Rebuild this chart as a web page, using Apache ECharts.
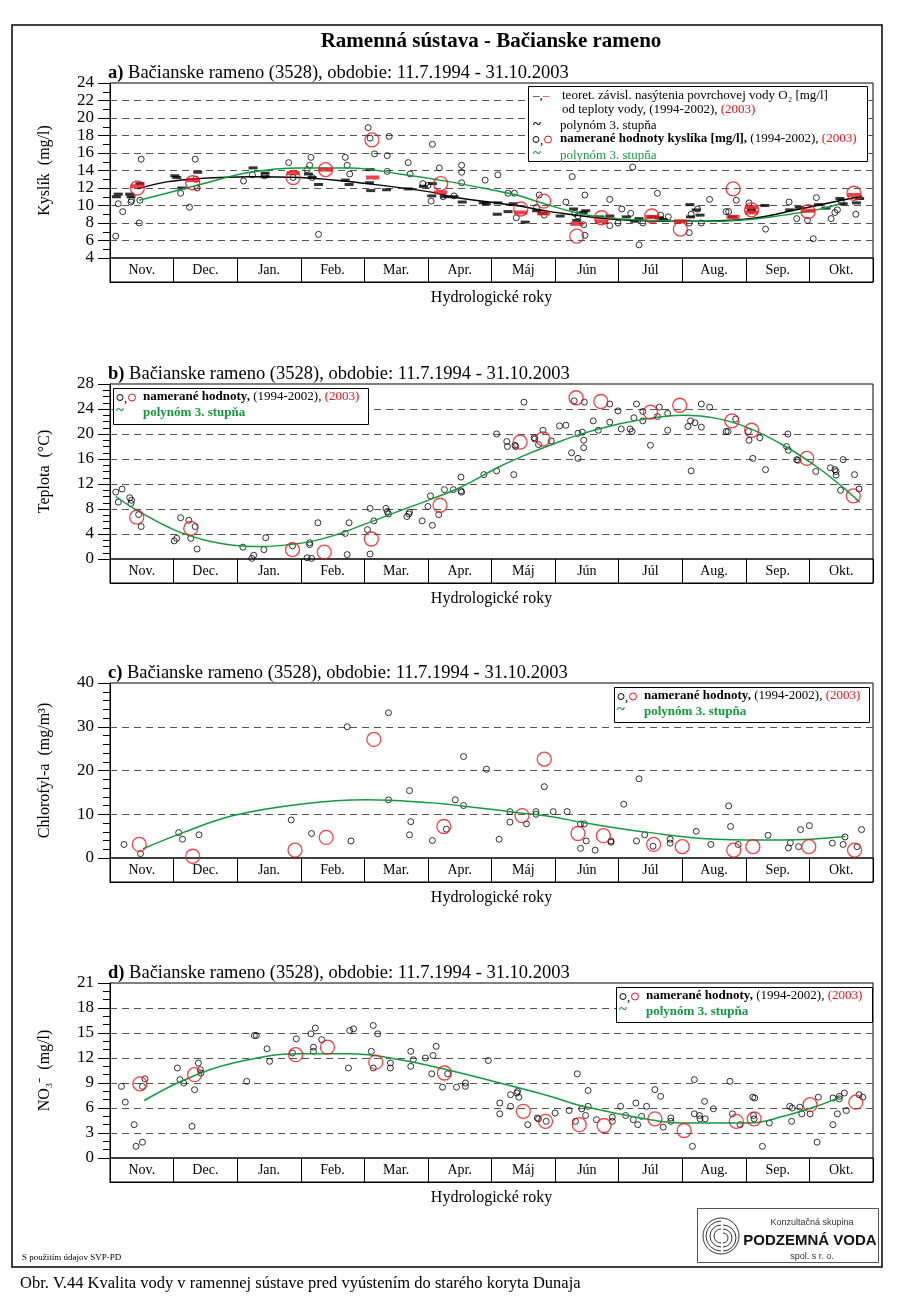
<!DOCTYPE html>
<html>
<head>
<meta charset="utf-8">
<script src="https://cdn.jsdelivr.net/npm/echarts@6/dist/echarts.min.js"></script>
<style>
html,body{margin:0;padding:0;background:#fff;}
#c{width:900px;height:1306px;}
</style>
</head>
<body>
<div id="c"></div>
<script>
// ---------- DATA (x = position in hydrological year, in months from 1 Nov) ----------
const months = ['Nov.','Dec.','Jan.','Feb.','Mar.','Apr.','Máj','Jún','Júl','Aug.','Sep.','Okt.'];

// a) oxygen
const o2Measured = [[0.09,6.5],[0.13,10.2],[0.20,9.3],[0.33,10.4],[0.34,10.6],[0.46,8.0],[0.47,10.6],[0.49,15.3],
[1.11,11.4],[1.25,9.8],[1.34,15.3],[1.37,12.0],[1.35,13.0],
[2.10,12.8],[2.24,13.5],[2.43,13.4],[2.81,14.9],[2.88,13.2],
[3.10,14.1],[3.14,14.6],[3.16,15.5],[3.18,13.2],[3.28,6.7],[3.70,15.5],[3.73,14.6],[3.77,13.6],
[4.06,18.9],[4.09,17.7],[4.16,15.9],[4.39,17.9],[4.36,15.7],[4.36,13.9],[4.69,14.9],[4.72,13.6],[4.92,12.5],
[5.05,10.5],[5.00,12.3],[5.07,17.0],[5.18,14.3],[5.24,11.0],[5.41,11.1],[5.53,14.6],[5.53,13.8],[5.53,12.6],[5.90,12.9],
[6.10,13.5],[6.26,11.4],[6.36,11.4],[6.39,8.6],[6.71,9.8],[6.75,11.2],[6.83,8.9],
[7.17,10.4],[7.27,13.3],[7.31,9.1],[7.36,8.8],[7.45,7.8],[7.47,11.2],[7.47,6.6],[7.86,10.7],[7.86,7.7],[7.99,8.0],
[8.05,9.6],[8.19,9.1],[8.22,14.4],[8.32,5.5],[8.38,8.0],[8.61,11.4],[8.66,8.9],[8.78,8.7],
[9.11,8.0],[9.11,6.9],[9.14,9.0],[9.24,9.6],[9.30,8.0],[9.43,10.7],[9.69,9.3],[9.73,9.3],[9.85,10.6],
[10.05,10.3],[10.09,9.5],[10.31,7.3],[10.68,10.4],[10.80,8.5],[10.97,8.3],
[11.06,6.2],[11.11,10.9],[11.34,8.5],[11.40,9.2],[11.44,9.5],[11.50,10.4],[11.73,9.0]];
const o2Measured2003 = [[0.43,12.0],[1.30,12.6],[2.88,13.2],[3.39,14.1],[4.12,17.5],[5.20,12.5],[6.46,9.6],[6.82,10.5],
[7.34,6.5],[7.73,8.6],[8.52,8.8],[8.97,7.3],[9.80,11.9],[10.09,9.5],[10.98,9.3],[11.70,11.4]];
const o2Saturation = [[0.10,11.0],[0.13,11.3],[0.31,11.3],[0.33,11.0],[0.47,12.5],[1.02,13.4],[1.05,13.2],[1.13,12.0],[1.38,13.8],
[2.25,14.3],[2.44,13.7],[2.44,13.3],[3.12,13.6],[3.18,13.2],[3.28,12.4],[3.70,12.9],[3.76,12.4],[4.09,14.1],[4.08,12.6],[4.10,11.7],
[4.35,11.8],[4.69,11.9],[4.93,12.2],[5.06,11.1],[5.07,12.5],[5.27,11.0],[5.41,11.0],[5.54,10.4],[5.87,10.3],[5.92,10.2],
[6.09,9.0],[6.10,10.3],[6.26,9.3],[6.34,10.2],[6.53,8.1],[6.71,9.4],[6.80,9.1],[7.08,8.8],[7.29,9.6],[7.34,8.3],[7.44,9.2],[7.48,9.4],
[7.70,8.7],[7.86,8.8],[8.12,8.7],[8.25,8.2],[8.32,8.5],[8.52,8.7],[8.64,8.6],[8.70,8.4],[9.12,10.1],[9.13,8.7],[9.22,9.5],[9.28,8.9],
[9.79,8.7],[10.09,9.5],[10.30,10.0],[10.69,9.5],[10.84,9.8],[11.14,10.1],[11.26,9.7],[11.48,10.8],[11.53,10.2],[11.74,10.3],[11.79,10.8]];
const o2Saturation2003 = [[0.43,12.2],[1.30,12.9],[2.88,13.7],[3.39,14.1],[4.13,13.2],[5.20,11.5],[6.46,9.2],[6.82,9.1],[7.34,7.9],
[7.73,8.2],[8.52,8.7],[8.97,8.2],[9.80,8.7],[10.09,9.8],[10.09,9.2],[10.98,9.4],[11.70,11.2]];
const o2SaturationFit = [[0.43,11.9],[0.89,12.7],[1.42,13.1],[2.20,13.3],[2.99,13.2],[4.04,12.5],[5.08,11.5],[5.35,11.0],[6.39,10.0],
[6.92,9.3],[7.97,8.4],[9.01,8.2],[10.06,8.5],[10.85,9.6],[11.64,10.8],[11.83,11.1]];
const o2MeasuredFit = [[0.46,10.6],[0.89,11.4],[1.42,12.4],[2.20,13.8],[2.99,14.3],[3.77,14.3],[4.56,13.6],[5.35,12.7],[6.13,11.6],
[6.39,11.2],[6.92,10.0],[7.44,9.0],[7.97,8.5],[8.49,8.3],[9.01,8.2],[9.54,8.2],[10.06,8.4],[10.59,8.9],[11.11,9.5],[11.48,10.2]];

// b) temperature
const tempMeasured = [[0.09,10.7],[0.13,9.1],[0.19,11.2],[0.31,9.8],[0.34,9.4],[0.33,8.9],[0.45,7.1],[0.49,5.2],
[1.11,6.6],[1.24,6.2],[1.34,5.2],[1.27,3.3],[1.01,2.9],[1.05,3.3],[1.37,1.6],
[2.09,1.9],[2.26,0.6],[2.23,0.1],[2.42,1.5],[2.45,3.4],[2.87,2.1],
[3.14,2.3],[3.14,2.6],[3.27,5.8],[3.10,0.2],[3.17,0.1],[3.70,4.1],[3.76,5.8],[3.73,0.7],
[4.05,4.7],[4.09,8.1],[4.09,0.8],[4.15,6.1],[4.34,8.1],[4.36,7.6],[4.38,7.2],[4.67,6.8],[4.70,7.2],[4.71,7.5],[4.91,6.1],
[5.00,8.4],[5.04,10.1],[5.07,5.4],[5.17,7.1],[5.26,11.1],[5.40,11.1],[5.52,13.1],[5.52,10.9],[5.53,10.7],[5.88,13.5],
[6.08,14.1],[6.08,20.0],[6.24,18.8],[6.25,18.0],[6.35,13.5],[6.37,18.2],[6.38,18.0],[6.51,25.1],[6.67,19.4],[6.68,19.2],[6.74,18.3],[6.81,20.6],[6.94,18.9],
[7.07,21.3],[7.17,21.4],[7.26,17.0],[7.30,25.3],[7.36,16.1],[7.36,20.1],[7.43,20.3],[7.45,19.0],[7.45,17.8],[7.46,25.1],[7.60,22.1],[7.68,20.6],[7.86,24.8],[7.86,21.9],[7.99,23.7],
[8.04,20.8],[8.18,20.8],[8.21,20.4],[8.24,22.6],[8.28,24.8],[8.38,22.1],[8.38,23.6],[8.50,18.2],[8.61,22.8],[8.64,24.3],[8.77,23.3],[8.77,20.6],
[9.09,21.2],[9.13,22.1],[9.14,14.1],[9.20,21.8],[9.30,24.8],[9.30,21.1],[9.43,24.3],[9.69,20.4],[9.72,20.4],[9.84,22.4],
[10.04,20.4],[10.05,19.0],[10.11,16.1],[10.22,19.4],[10.31,14.3],[10.64,18.0],[10.66,20.0],[10.67,17.4],[10.80,15.9],[10.82,15.8],
[11.10,14.0],[11.33,14.6],[11.40,14.3],[11.42,14.0],[11.42,13.4],[11.49,11.0],[11.53,15.9],[11.71,13.5],[11.78,11.2]];
const tempMeasured2003 = [[0.42,6.7],[1.27,4.9],[2.87,1.5],[3.37,1.1],[4.11,3.2],[5.19,8.6],[6.45,18.7],[6.81,19.2],
[7.33,25.8],[7.72,25.2],[8.50,23.5],[8.96,24.6],[9.78,22.1],[10.09,20.6],[10.96,16.1],[11.69,10.1]];
const tempFit = [[0.09,10.0],[0.42,7.8],[1.00,4.7],[1.50,3.0],[1.94,2.2],[2.36,2.0],[2.99,2.5],[3.50,3.7],[4.04,5.7],[4.50,7.5],
[5.08,9.7],[5.50,11.4],[6.13,14.8],[6.50,16.5],[6.92,18.2],[7.44,20.1],[8.00,21.6],[8.49,22.5],[9.01,23.0],[9.54,22.5],
[10.06,20.9],[10.59,18.2],[11.11,14.8],[11.50,11.7],[11.79,9.1]];

// c) chlorophyll-a
const chlMeasured = [[0.22,3.1],[0.48,1.0],[1.08,5.8],[1.14,4.3],[1.40,5.3],[2.85,8.7],[3.17,5.6],[3.73,30.0],[3.79,3.9],[4.38,33.2],
[4.38,13.3],[4.71,15.4],[4.73,8.3],[4.71,5.3],[5.07,4.0],[5.29,6.6],[5.43,13.3],[5.56,23.2],[5.56,12.0],[5.92,20.3],[6.12,4.3],
[6.29,10.6],[6.29,8.2],[6.55,7.8],[6.70,10.6],[6.70,10.0],[6.83,16.3],[6.97,10.6],[7.19,10.6],[7.40,7.8],[7.46,7.8],[7.49,3.9],
[7.40,2.2],[7.63,1.8],[7.88,3.9],[7.88,3.6],[8.08,12.3],[8.28,3.9],[8.32,18.1],[8.41,5.3],[8.54,2.7],[8.81,4.3],[8.81,3.4],
[9.22,6.1],[9.45,3.1],[9.73,11.9],[9.76,7.2],[9.88,3.1],[10.35,5.2],[10.67,2.3],[10.70,3.5],[10.83,2.6],[10.86,6.5],[11.00,7.4],
[11.36,3.4],[11.53,3.1],[11.56,4.8],[11.75,2.6],[11.82,6.5]];
const chlMeasured2003 = [[0.46,3.1],[1.30,0.4],[2.91,1.8],[3.40,4.7],[4.15,27.1],[5.25,7.2],[6.48,9.7],[6.83,22.6],[7.36,5.6],
[7.76,5.1],[8.55,3.1],[9.00,2.6],[9.81,1.8],[10.11,2.6],[10.99,2.6],[11.71,1.8]];
const chlFit = [[0.52,2.1],[1.15,5.8],[1.94,9.7],[2.99,12.3],[4.04,13.3],[5.08,12.6],[5.35,12.2],[6.13,10.9],[6.39,10.4],
[6.92,9.5],[7.44,8.1],[8.49,5.8],[9.54,4.3],[10.59,4.1],[11.56,4.9]];

// d) nitrate
const no3Measured = [[0.18,8.6],[0.24,6.7],[0.38,4.0],[0.41,1.4],[0.51,1.9],[0.51,8.6],[0.55,9.5],[1.06,10.8],[1.10,9.4],[1.16,9.0],
[1.33,8.2],[1.29,3.8],[1.39,11.4],[1.42,10.6],[1.43,10.2],[2.15,9.2],[2.27,14.7],[2.30,14.7],[2.47,13.1],[2.51,11.6],[2.87,12.6],
[2.93,14.3],[3.16,14.9],[3.23,15.6],[3.20,13.3],[3.20,12.8],[3.33,14.2],[3.75,10.8],[3.77,15.3],[3.83,15.5],[4.11,12.8],[4.14,15.9],
[4.14,10.8],[4.21,14.9],[4.41,11.4],[4.41,10.8],[4.73,12.8],[4.73,11.0],[4.77,11.8],[4.96,12.0],[5.08,12.3],[5.13,13.4],[5.06,10.1],
[5.23,8.5],[5.31,10.1],[5.45,8.5],[5.59,9.0],[5.59,8.6],[5.95,11.7],[6.13,6.6],[6.13,5.3],[6.30,7.6],[6.30,6.2],[6.40,7.8],[6.43,7.3],
[6.41,8.0],[6.57,4.0],[6.72,4.8],[6.74,4.7],[6.86,4.4],[7.00,5.4],[7.22,5.7],[7.32,4.4],[7.35,10.1],[7.42,5.9],[7.48,5.1],[7.52,8.1],
[7.52,6.2],[7.65,4.6],[7.90,4.9],[7.90,4.4],[8.03,6.2],[8.11,5.1],[8.23,4.6],[8.27,6.6],[8.30,4.0],[8.36,5.0],[8.44,6.2],[8.57,8.2],
[8.66,7.4],[8.70,3.7],[8.82,4.8],[8.82,4.4],[9.16,1.4],[9.19,9.4],[9.19,5.3],[9.27,5.1],[9.28,4.7],[9.36,4.7],[9.35,6.8],[9.49,5.9],
[9.75,9.2],[9.79,5.3],[9.91,4.0],[10.11,7.3],[10.14,7.2],[10.12,5.1],[10.13,4.7],[10.26,1.4],[10.37,4.2],[10.69,6.2],[10.72,4.4],
[10.73,6.0],[10.85,6.1],[10.88,5.3],[11.01,5.3],[11.12,1.9],[11.14,7.3],[11.37,4.0],[11.44,5.3],[11.37,7.2],[11.47,7.1],[11.47,7.4],
[11.55,7.8],[11.58,5.7],[11.78,7.6],[11.84,7.3]];
const no3Measured2003 = [[0.47,8.9],[1.33,10.0],[2.92,12.4],[3.42,13.3],[4.18,11.5],[5.26,10.2],[6.50,5.6],[6.85,4.4],[7.38,4.0],
[7.77,3.9],[8.57,4.7],[9.03,3.3],[9.85,4.4],[10.13,4.7],[11.01,6.4],[11.73,6.7]];
const no3Fit = [[0.54,6.9],[1.15,9.3],[1.94,11.4],[2.99,12.5],[3.77,12.5],[4.56,11.8],[5.35,10.5],[6.13,9.0],[6.92,7.4],[7.44,6.2],
[8.49,4.6],[9.01,4.2],[10.06,4.2],[10.59,5.0],[11.11,6.2],[11.48,7.3]];

// axis settings per panel
const yNames = ['Kyslík  (mg/l)', 'Teplota  (°C)', 'Chlorofyl-a  (mg/m³)', 'NO₃⁻  (mg/l)'];
const yMin = [4, 0, 0, 0];
const yMax = [24, 28, 40, 21];
const yStep = [2, 4, 10, 3];
const yMinorSplit = [2, 4, 5, 3];
const panelLetters = ['a)', 'b)', 'c)', 'd)'];
const panelTitle = ' Bačianske rameno (3528), obdobie: 11.7.1994 - 31.10.2003';

// ---------- LAYOUT ----------
const SERIF = '"Liberation Serif", "Times New Roman", serif';
const RED = '#e8141c', GREEN = '#15993f';
const L = 110, W = 763, H = 175, BAND = 24;
const tops = [83, 384, 683, 983];
const LF = 13; // legend font size

const grids = [], xAxes = [], yAxes = [], series = [];
tops.forEach((t) => {
  grids.push({left: L, top: t, width: W, height: H, show: true, borderColor: '#000', borderWidth: 1, backgroundColor: 'transparent'});
});
tops.forEach((t) => {
  grids.push({left: L, top: t + H, width: W, height: BAND, show: true, borderColor: '#000', borderWidth: 1, backgroundColor: 'transparent'});
});
for (let i = 0; i < 4; i++) {
  xAxes.push({gridIndex: i, type: 'value', min: 0, max: 12, show: false});
  yAxes.push({
    gridIndex: i, type: 'value', min: yMin[i], max: yMax[i], interval: yStep[i],
    name: yNames[i], nameLocation: 'middle', nameGap: 57,
    nameTextStyle: {fontFamily: SERIF, fontSize: 16, color: '#000'},
    axisLine: {show: true, lineStyle: {color: '#000', width: 1}},
    axisTick: {show: true, length: 12, lineStyle: {color: '#000', width: 1}},
    minorTick: {show: true, splitNumber: yMinorSplit[i], length: 7, lineStyle: {color: '#000', width: 1}},
    axisLabel: {fontFamily: SERIF, fontSize: 17, color: '#000', margin: 16},
    splitLine: {show: true, showMinLine: false, showMaxLine: false, lineStyle: {color: '#555', width: 1, type: [7, 5]}}
  });
}
for (let i = 0; i < 4; i++) {
  xAxes.push({
    gridIndex: 4 + i, type: 'category', data: months, boundaryGap: true,
    name: 'Hydrologické roky', nameLocation: 'middle', nameGap: 8,
    nameTextStyle: {fontFamily: SERIF, fontSize: 16, color: '#000', verticalAlign: 'top'},
    axisLine: {show: true, lineStyle: {color: '#000'}},
    axisTick: {show: false},
    axisLabel: {interval: 0, fontFamily: SERIF, fontSize: 14, color: '#000', margin: -12, verticalAlign: 'middle'},
    splitLine: {show: true, interval: 0, lineStyle: {color: '#000', width: 1}}
  });
  yAxes.push({gridIndex: 4 + i, type: 'value', show: false, min: 0, max: 1});
}

function blackCircles(i, data) {
  return {type: 'scatter', xAxisIndex: i, yAxisIndex: i, data, symbol: 'circle', symbolSize: 6, silent: true, z: 3,
    itemStyle: {color: 'rgba(0,0,0,0)', borderColor: '#000', borderWidth: 1}};
}
function redCircles(i, data) {
  return {type: 'scatter', xAxisIndex: i, yAxisIndex: i, data, symbol: 'circle', symbolSize: 14, silent: true, z: 5,
    itemStyle: {color: 'rgba(0,0,0,0)', borderColor: RED, borderWidth: 1.3}};
}
function dashes(i, data, color, size, z) {
  return {type: 'scatter', xAxisIndex: i, yAxisIndex: i, data, symbol: 'rect', symbolSize: size, silent: true, z,
    itemStyle: {color}};
}
function fit(i, data, color) {
  return {type: 'line', xAxisIndex: i, yAxisIndex: i, data, smooth: 0.4, showSymbol: false, symbol: 'none', silent: true, z: 4,
    lineStyle: {color, width: 1.5}};
}

series.push(dashes(0, o2Saturation, '#000', [9, 3], 2));
series.push(blackCircles(0, o2Measured));
series.push(fit(0, o2SaturationFit, '#000'));
series.push(fit(0, o2MeasuredFit, GREEN));
series.push(redCircles(0, o2Measured2003));
series.push(dashes(0, o2Saturation2003, RED, [13, 4], 6));

series.push(blackCircles(1, tempMeasured));
series.push(fit(1, tempFit, GREEN));
series.push(redCircles(1, tempMeasured2003));

series.push(blackCircles(2, chlMeasured));
series.push(fit(2, chlFit, GREEN));
series.push(redCircles(2, chlMeasured2003));

series.push(blackCircles(3, no3Measured));
series.push(fit(3, no3Fit, GREEN));
series.push(redCircles(3, no3Measured2003));

// ---------- GRAPHIC (frame, titles, legends, logo) ----------
const g = [];
const txt = (x, y, text, opt) => Object.assign({type: 'text', x, y, silent: true,
  style: Object.assign({text, fill: '#000', font: LF + 'px ' + SERIF, textAlign: 'left', textVerticalAlign: 'middle'}, opt || {})});

g.push({type: 'rect', shape: {x: 12, y: 25, width: 870, height: 1242}, silent: true,
  style: {fill: 'none', stroke: '#000', lineWidth: 1.5}});
g.push(txt(491, 42, 'Ramenná sústava - Bačianske rameno', {font: 'bold 21px ' + SERIF, textAlign: 'center'}));

tops.forEach((t, i) => {
  g.push(txt(108, t - 10, '{b|' + panelLetters[i] + '}' + panelTitle, {
    font: '18.5px ' + SERIF, rich: {b: {font: 'bold 18.5px ' + SERIF, fill: '#000'}}}));
});

const richR = {r: {fill: RED, font: LF + 'px ' + SERIF}, k: {fill: '#000', font: LF + 'px ' + SERIF}, b: {fill: '#000', font: 'bold ' + LF + 'px ' + SERIF}};
function circSym(x, y) {
  g.push({type: 'circle', shape: {cx: x, cy: y, r: 3}, silent: true, style: {fill: 'none', stroke: '#000', lineWidth: 1}});
  g.push(txt(x + 4, y + 1, ',', {font: LF + 'px ' + SERIF}));
  g.push({type: 'circle', shape: {cx: x + 12, cy: y, r: 3.5}, silent: true, style: {fill: 'none', stroke: RED, lineWidth: 1}});
}
// legend a
g.push({type: 'rect', shape: {x: 528.5, y: 86.5, width: 339, height: 75}, silent: true, style: {fill: '#fff', stroke: '#000', lineWidth: 1}, z: 10});
g.push(txt(533, 96, '{k|–},{r|–}', {rich: richR}));
g.push(txt(562, 96, 'teoret. závisl. nasýtenia povrchovej vody O₂ [mg/l]'));
g.push(txt(562, 110, 'od teploty vody, (1994-2002), {r|(2003)}', {rich: richR}));
g.push(txt(533, 125, '~', {font: 'bold 15px ' + SERIF}));
g.push(txt(560, 126, 'polynóm 3. stupňa'));
circSym(536, 139.5);
g.push(txt(560, 139, '{b|namerané hodnoty kyslíka [mg/l],} (1994-2002), {r|(2003)}', {rich: richR}));
g.push(txt(533, 154, '~', {font: 'bold 15px ' + SERIF, fill: GREEN}));
g.push(txt(560, 156, 'polynóm 3. stupňa', {fill: GREEN}));

function smallLegend(x0, y0, w, h) {
  g.push({type: 'rect', shape: {x: x0 + 0.5, y: y0 + 0.5, width: w, height: h}, silent: true, style: {fill: '#fff', stroke: '#000', lineWidth: 1}, z: 10});
  circSym(x0 + 7, y0 + 9.5);
  g.push(txt(x0 + 30, y0 + 9, '{b|namerané hodnoty,} (1994-2002), {r|(2003)}', {rich: richR}));
  g.push(txt(x0 + 3, y0 + 23, '~', {font: 'bold 15px ' + SERIF, fill: GREEN}));
  g.push(txt(x0 + 30, y0 + 25, 'polynóm 3. stupňa', {fill: GREEN, font: 'bold ' + LF + 'px ' + SERIF}));
}
smallLegend(113, 388, 255, 36);
smallLegend(614, 687, 255, 35);
smallLegend(616, 987, 256, 35);

// footer
g.push(txt(22, 1258, 'S použitím údajov SVP-PD', {font: '9px ' + SERIF}));
g.push(txt(20, 1284, 'Obr. V.44 Kvalita vody v ramennej sústave pred vyústením do starého koryta Dunaja', {font: '16.5px ' + SERIF}));

// logo
const SANS = '"Liberation Sans", Arial, sans-serif';
g.push({type: 'rect', shape: {x: 697.5, y: 1208.5, width: 181, height: 54}, silent: true, style: {fill: '#fff', stroke: '#555', lineWidth: 1}});
g.push({type: 'circle', shape: {cx: 721, cy: 1236, r: 18}, silent: true, style: {fill: 'none', stroke: '#333', lineWidth: 1}});
[15, 11, 7].forEach(r => {
  g.push({type: 'arc', shape: {cx: 721, cy: 1236, r, startAngle: Math.PI * 0.5, endAngle: Math.PI * 1.5}, silent: true, style: {fill: 'none', stroke: '#333', lineWidth: 1}});
  g.push({type: 'arc', shape: {cx: 723, cy: 1238, r: r - 2, startAngle: -Math.PI * 0.5, endAngle: Math.PI * 0.5}, silent: true, style: {fill: 'none', stroke: '#333', lineWidth: 1}});
});
g.push(txt(812, 1223, 'Konzultačná skupina', {font: '9px ' + SANS, fill: '#333', textAlign: 'center'}));
g.push(txt(810, 1241, 'PODZEMNÁ VODA', {font: 'bold 15px ' + SANS, fill: '#111', textAlign: 'center'}));
g.push(txt(812, 1257, 'spol. s r. o.', {font: '9px ' + SANS, fill: '#333', textAlign: 'center'}));

g.forEach((e) => { if (e.z === undefined) e.z = 11; });

const chart = echarts.init(document.getElementById('c'), null, {renderer: 'canvas'});
chart.setOption({
  animation: false,
  backgroundColor: '#fff',
  grid: grids, xAxis: xAxes, yAxis: yAxes, series,
  graphic: {elements: g}
});
</script>
</body>
</html>
